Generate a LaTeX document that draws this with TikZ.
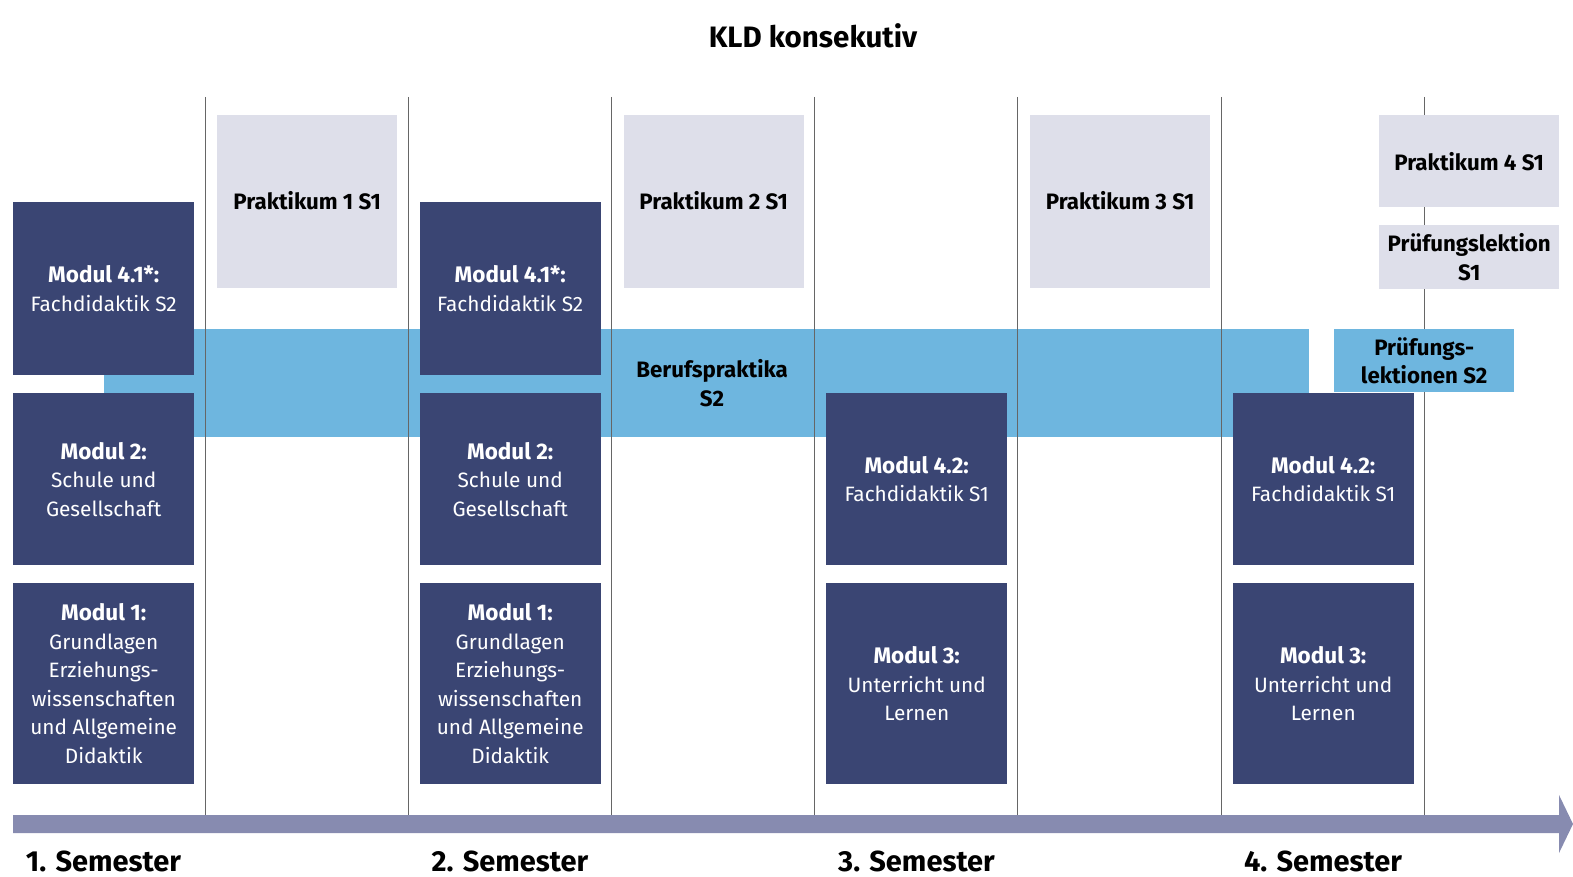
\documentclass[tikz,border=0pt]{standalone}
\usepackage{fontspec}
\setmainfont{Fira Sans}
\definecolor{modulblue}{HTML}{3A4573}
\definecolor{praktgray}{HTML}{DEDFEA}
\definecolor{bandblue}{HTML}{6EB6DF}
\definecolor{zeitgray}{HTML}{878BB0}
\newcommand{\modtitel}[1]{{\fontsize{22.5}{28.5}\selectfont\bfseries #1}}

\begin{document}
\begin{tikzpicture}[
				x=1pt,y=-1pt,
				every node/.style={font=\fontsize{20.8}{28.5}\selectfont, align=center, inner sep=0pt},
				fett/.style={font=\fontsize{22.3}{28.5}\selectfont\bfseries},
				modul/.style={fill=modulblue, text=white, minimum width=181pt, anchor=north west},
				prakt/.style={fill=praktgray, minimum width=180pt, anchor=north west, fett},
				sem/.style={font=\fontsize{29}{30}\selectfont\bfseries},
			]

			\useasboundingbox (0,0) rectangle (1573,877);
			\node[font=\fontsize{29.5}{30}\selectfont\bfseries] (titel) at (813,36) {KLD konsekutiv};

			% Berufspraktika
			\fill[bandblue] (104,329) rectangle (1309,437);
			\node[fett] (beruf) at (712,383) {Berufspraktika\\S2};

			\foreach \x in {205,408.2,611.4,814.6,1017.8,1221,1424}
				\draw[black!60, line width=0.8pt] (\x,97) -- (\x,815);

			% Semester 1
			\node[modul, minimum height=173pt] (m41a) at (13,202) {\modtitel{Modul 4.1*:}\\Fachdidaktik S2};
			\node[modul, minimum height=172pt] (m2a) at (13,393) {\modtitel{Modul 2:}\\Schule und\\Gesellschaft};
			\node[modul, minimum height=201pt] (m1a) at (13,583) {\modtitel{Modul 1:}\\Grundlagen\\Erziehungs-\\wissenschaften\\und Allgemeine\\Didaktik};
			\node[prakt, minimum height=173pt, label={[anchor=center, yshift=-86pt, fett]north:Praktikum 1 S1}] (p1) at (217,115) {};

			% Semester 2
			\node[modul, minimum height=173pt] (m41b) at (419.5,202) {\modtitel{Modul 4.1*:}\\Fachdidaktik S2};
			\node[modul, minimum height=172pt] (m2b) at (419.5,393) {\modtitel{Modul 2:}\\Schule und\\Gesellschaft};
			\node[modul, minimum height=201pt] (m1b) at (419.5,583) {\modtitel{Modul 1:}\\Grundlagen\\Erziehungs-\\wissenschaften\\und Allgemeine\\Didaktik};
			\node[prakt, minimum height=173pt, label={[anchor=center, yshift=-86pt, fett]north:Praktikum 2 S1}] (p2) at (623.5,115) {};

			% Semester 3
			\node[modul, minimum height=172pt] (m42a) at (826,393) {\modtitel{Modul 4.2:}\\Fachdidaktik S1};
			\node[modul, minimum height=201pt] (m3a) at (826,583) {\modtitel{Modul 3:}\\Unterricht und\\Lernen};
			\node[prakt, minimum height=173pt, label={[anchor=center, yshift=-86pt, fett]north:Praktikum 3 S1}] (p3) at (1030,115) {};

			% Semester 4
			\node[modul, minimum height=172pt] (m42b) at (1232.5,393) {\modtitel{Modul 4.2:}\\Fachdidaktik S1};
			\node[modul, minimum height=201pt] (m3b) at (1232.5,583) {\modtitel{Modul 3:}\\Unterricht und\\Lernen};
			\node[prakt, minimum height=92pt] (p4) at (1379,115) {Praktikum 4 S1};
			\node[prakt, minimum height=64pt] (pl1) at (1379,225) {Prüfungslektion\\S1};
			\node[fill=bandblue, minimum width=180pt, minimum height=63pt, anchor=north west, fett] (pl2) at (1334,329) {Prüfungs-\\lektionen S2};

			% Zeitachse
			\fill[zeitgray] (13,815) -- (1559,815) -- (1559,795) -- (1573,824) -- (1559,853) -- (1559,833) -- (13,833) -- cycle;
			\node[sem] (s1) at (103.5,861) {1. Semester};
			\node[sem] (s2) at (510,861) {2. Semester};
			\node[sem] (s3) at (916.5,861) {3. Semester};
			\node[sem] (s4) at (1323,861) {4. Semester};

		\end{tikzpicture}
\end{document}
